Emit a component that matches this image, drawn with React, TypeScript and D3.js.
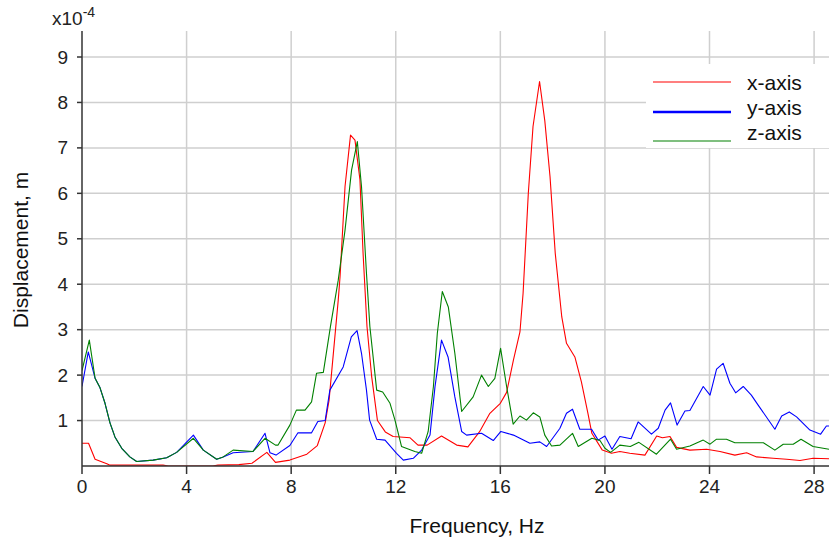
import * as d3 from 'd3';

// [frequency Hz, displacement x1e-4 m]
const X_AXIS: [number, number][] = [
  [0, 0.5], [0.25, 0.5], [0.5, 0.15], [0.95, 0.05], [1.05, 0.02], [3.1, 0.02], [3.3, 0], [5.0, 0], [5.2, 0.02],
  [6.0, 0.03], [6.5, 0.06], [7.07, 0.3], [7.4, 0.08], [7.95, 0.13], [8.6, 0.26], [9.0, 0.45], [9.3, 0.95],
  [9.45, 1.45], [9.8, 3.65], [9.87, 4.17], [10.06, 6.15], [10.27, 7.28], [10.44, 7.17], [10.63, 6.3], [10.75, 4.68],
  [10.9, 3.07], [11.08, 1.96], [11.3, 1.0], [11.6, 0.75], [11.9, 0.65], [12.55, 0.62], [12.85, 0.46], [13.2, 0.46],
  [13.75, 0.66], [14.33, 0.46], [14.76, 0.42], [15.2, 0.75], [15.6, 1.16], [16.0, 1.38], [16.24, 1.62], [16.5, 2.33],
  [16.75, 2.95], [16.87, 3.8], [17.07, 6.0], [17.25, 7.47], [17.5, 8.46], [17.7, 7.6], [17.9, 6.37], [18.1, 4.68],
  [18.35, 3.28], [18.53, 2.7], [18.85, 2.4], [19.1, 1.85], [19.35, 1.16], [19.5, 0.72], [19.9, 0.35], [20.25, 0.28],
  [20.57, 0.32], [20.95, 0.28], [21.53, 0.24], [21.98, 0.66], [22.2, 0.62], [22.49, 0.65], [22.74, 0.41],
  [23.25, 0.35], [23.89, 0.37], [24.4, 0.32], [24.97, 0.24], [25.42, 0.29], [25.8, 0.2], [26.43, 0.17],
  [26.95, 0.15], [27.46, 0.12], [27.96, 0.17], [28.57, 0.16],
];

const Y_AXIS: [number, number][] = [
  [0, 1.75], [0.24, 2.51], [0.5, 1.93], [0.69, 1.72], [0.88, 1.38], [1.07, 0.95], [1.26, 0.64], [1.52, 0.39],
  [1.83, 0.2], [2.09, 0.1], [2.72, 0.13], [3.24, 0.18], [3.62, 0.3], [4.26, 0.68], [4.64, 0.35], [5.15, 0.15],
  [5.4, 0.2], [5.78, 0.29], [6.54, 0.32], [7.0, 0.72], [7.19, 0.29], [7.42, 0.24], [7.95, 0.45], [8.26, 0.73],
  [8.78, 0.73], [9.02, 0.98], [9.3, 1.0], [9.48, 1.67], [9.99, 2.18], [10.3, 2.84], [10.52, 2.98], [10.69, 2.48],
  [10.88, 1.67], [11.0, 1.01], [11.27, 0.59], [11.59, 0.57], [12.03, 0.28], [12.29, 0.13], [12.67, 0.17],
  [12.99, 0.35], [13.31, 0.68], [13.5, 1.74], [13.75, 2.77], [14.0, 2.4], [14.26, 1.52], [14.52, 0.76],
  [14.71, 0.68], [15.28, 0.72], [15.73, 0.56], [16.02, 0.76], [16.5, 0.68], [17.13, 0.5], [17.51, 0.53],
  [17.77, 0.43], [18.28, 0.83], [18.53, 1.16], [18.76, 1.25], [19.04, 0.81], [19.49, 0.81], [19.74, 0.57],
  [20.0, 0.66], [20.27, 0.37], [20.57, 0.65], [21.0, 0.6], [21.27, 0.97], [21.78, 0.7], [22.04, 0.83],
  [22.3, 1.23], [22.51, 1.39], [22.76, 0.9], [23.06, 1.21], [23.25, 1.22], [23.76, 1.75], [24.02, 1.56],
  [24.27, 2.13], [24.52, 2.26], [24.78, 1.82], [25.0, 1.61], [25.29, 1.75], [25.6, 1.56], [25.86, 1.34],
  [26.5, 0.81], [26.76, 1.1], [27.05, 1.19], [27.33, 1.08], [27.84, 0.79], [28.25, 0.7], [28.47, 0.88], [28.57, 0.88],
];

const Z_AXIS: [number, number][] = [
  [0, 2.1], [0.28, 2.77], [0.5, 1.93], [0.69, 1.72], [0.88, 1.38], [1.07, 0.95], [1.26, 0.64], [1.52, 0.39],
  [1.83, 0.2], [2.09, 0.1], [2.72, 0.13], [3.24, 0.18], [3.62, 0.3], [4.26, 0.61], [4.64, 0.35], [5.15, 0.15],
  [5.4, 0.2], [5.78, 0.35], [6.54, 0.32], [7.0, 0.61], [7.4, 0.46], [7.5, 0.46], [7.95, 0.9], [8.2, 1.23],
  [8.53, 1.23], [8.78, 1.41], [8.97, 2.04], [9.23, 2.06], [9.5, 3.06], [9.8, 4.09], [10.06, 5.19], [10.31, 6.51],
  [10.53, 7.14], [10.69, 6.15], [10.88, 4.24], [11.01, 3.07], [11.27, 1.67], [11.5, 1.63], [11.78, 1.38],
  [11.97, 1.01], [12.22, 0.43], [12.73, 0.32], [12.99, 0.28], [13.24, 0.76], [13.44, 1.75], [13.59, 2.92],
  [13.78, 3.84], [14.01, 3.5], [14.26, 2.48], [14.52, 1.2], [14.96, 1.52], [15.28, 2.0], [15.54, 1.75],
  [15.79, 1.93], [16.01, 2.59], [16.24, 1.75], [16.49, 0.92], [16.75, 1.1], [17.0, 1.01], [17.26, 1.17],
  [17.51, 1.08], [17.7, 0.68], [17.96, 0.44], [18.28, 0.46], [18.76, 0.72], [18.98, 0.43], [19.5, 0.61],
  [19.81, 0.56], [20.0, 0.39], [20.22, 0.3], [20.57, 0.46], [20.97, 0.43], [21.3, 0.52], [21.97, 0.26],
  [22.51, 0.59], [22.74, 0.37], [23.25, 0.44], [23.76, 0.57], [24.02, 0.48], [24.27, 0.59], [24.65, 0.59],
  [24.97, 0.51], [26.06, 0.51], [26.5, 0.35], [26.82, 0.48], [27.2, 0.48], [27.5, 0.59], [27.96, 0.43], [28.57, 0.37],
];

const X_TICKS = [0, 4, 8, 12, 16, 20, 24, 28];
const Y_TICKS = [1, 2, 3, 4, 5, 6, 7, 8, 9];

const SERIES = [
  { name: 'x-axis', data: X_AXIS, color: '#ff0000', legendWidth: 1.2 },
  { name: 'y-axis', data: Y_AXIS, color: '#0000ff', legendWidth: 2.6 },
  { name: 'z-axis', data: Z_AXIS, color: '#008000', legendWidth: 1.2 },
];

const FONT = '"Liberation Sans", Arial, sans-serif';

export default function App() {
  const W = 829;
  const H = 537;
  const left = 82;
  const right = 829;
  const top = 31;
  const bottom = 466;

  const x = d3.scaleLinear().domain([0, 28.57]).range([left, right]);
  const y = d3.scaleLinear().domain([0, 9]).range([bottom, 57]);

  const line = d3.line<[number, number]>()
    .x(d => x(d[0]))
    .y(d => y(d[1]));

  const legendRows = [
    { lineY: 82, textY: 90 },
    { lineY: 112, textY: 115 },
    { lineY: 141, textY: 140 },
  ];

  return (
    <svg width={W} height={H} style={{ display: 'block', background: '#fff' }} fontFamily={FONT}>
      <style>{'body{margin:0}'}</style>
      <defs>
        <clipPath id="plot">
          <rect x={left} y={top} width={right - left} height={bottom - top} />
        </clipPath>
      </defs>

      {/* grid */}
      {Y_TICKS.map(t => (
        <line key={'gy' + t} x1={left} x2={right} y1={y(t)} y2={y(t)} stroke="#cfcfcf" strokeWidth={1.5} />
      ))}
      {X_TICKS.filter(t => t > 0).map(t => (
        <line key={'gx' + t} x1={x(t)} x2={x(t)} y1={top} y2={bottom} stroke="#cfcfcf" strokeWidth={1.5} />
      ))}

      {/* legend background hides grid */}
      <rect x={646} y={64} width={183} height={84} fill="#fff" />

      {/* series */}
      <g clipPath="url(#plot)">
        {SERIES.map(s => (
          <path key={s.name} d={line(s.data) ?? ''} fill="none" stroke={s.color} strokeWidth={1.1} strokeLinejoin="round" />
        ))}
      </g>

      {/* axes */}
      <line x1={left} x2={left} y1={top} y2={bottom} stroke="#333" strokeWidth={1.5} />
      <line x1={left} x2={right} y1={bottom} y2={bottom} stroke="#333" strokeWidth={1.5} />

      {Y_TICKS.map(t => (
        <g key={'ty' + t}>
          <line x1={left - 5} x2={left} y1={y(t)} y2={y(t)} stroke="#333" strokeWidth={1.5} />
          <text x={68} y={y(t)} textAnchor="end" dominantBaseline="central" fontSize={19} fill="#222">{t}</text>
        </g>
      ))}
      {X_TICKS.map(t => (
        <g key={'tx' + t}>
          <line x1={x(t)} x2={x(t)} y1={bottom} y2={bottom + 8} stroke="#333" strokeWidth={1.5} />
          <text x={x(t)} y={493} textAnchor="middle" fontSize={19} fill="#222">{t}</text>
        </g>
      ))}

      {/* exponent */}
      <text x={52} y={25} fontSize={19} fill="#222">
        x10<tspan dy={-8} fontSize={14}>-4</tspan>
      </text>

      {/* axis titles */}
      <text x={477} y={533} textAnchor="middle" fontSize={21} fill="#111">Frequency, Hz</text>
      <text transform="translate(28,250) rotate(-90)" textAnchor="middle" fontSize={21} fill="#111">Displacement, m</text>

      {/* legend */}
      {SERIES.map((s, i) => (
        <g key={'lg' + s.name}>
          <line x1={653} x2={731} y1={legendRows[i].lineY} y2={legendRows[i].lineY} stroke={s.color} strokeWidth={s.legendWidth} />
          <text x={747} y={legendRows[i].textY} fontSize={21} fill="#111">{s.name}</text>
        </g>
      ))}
    </svg>
  );
}
